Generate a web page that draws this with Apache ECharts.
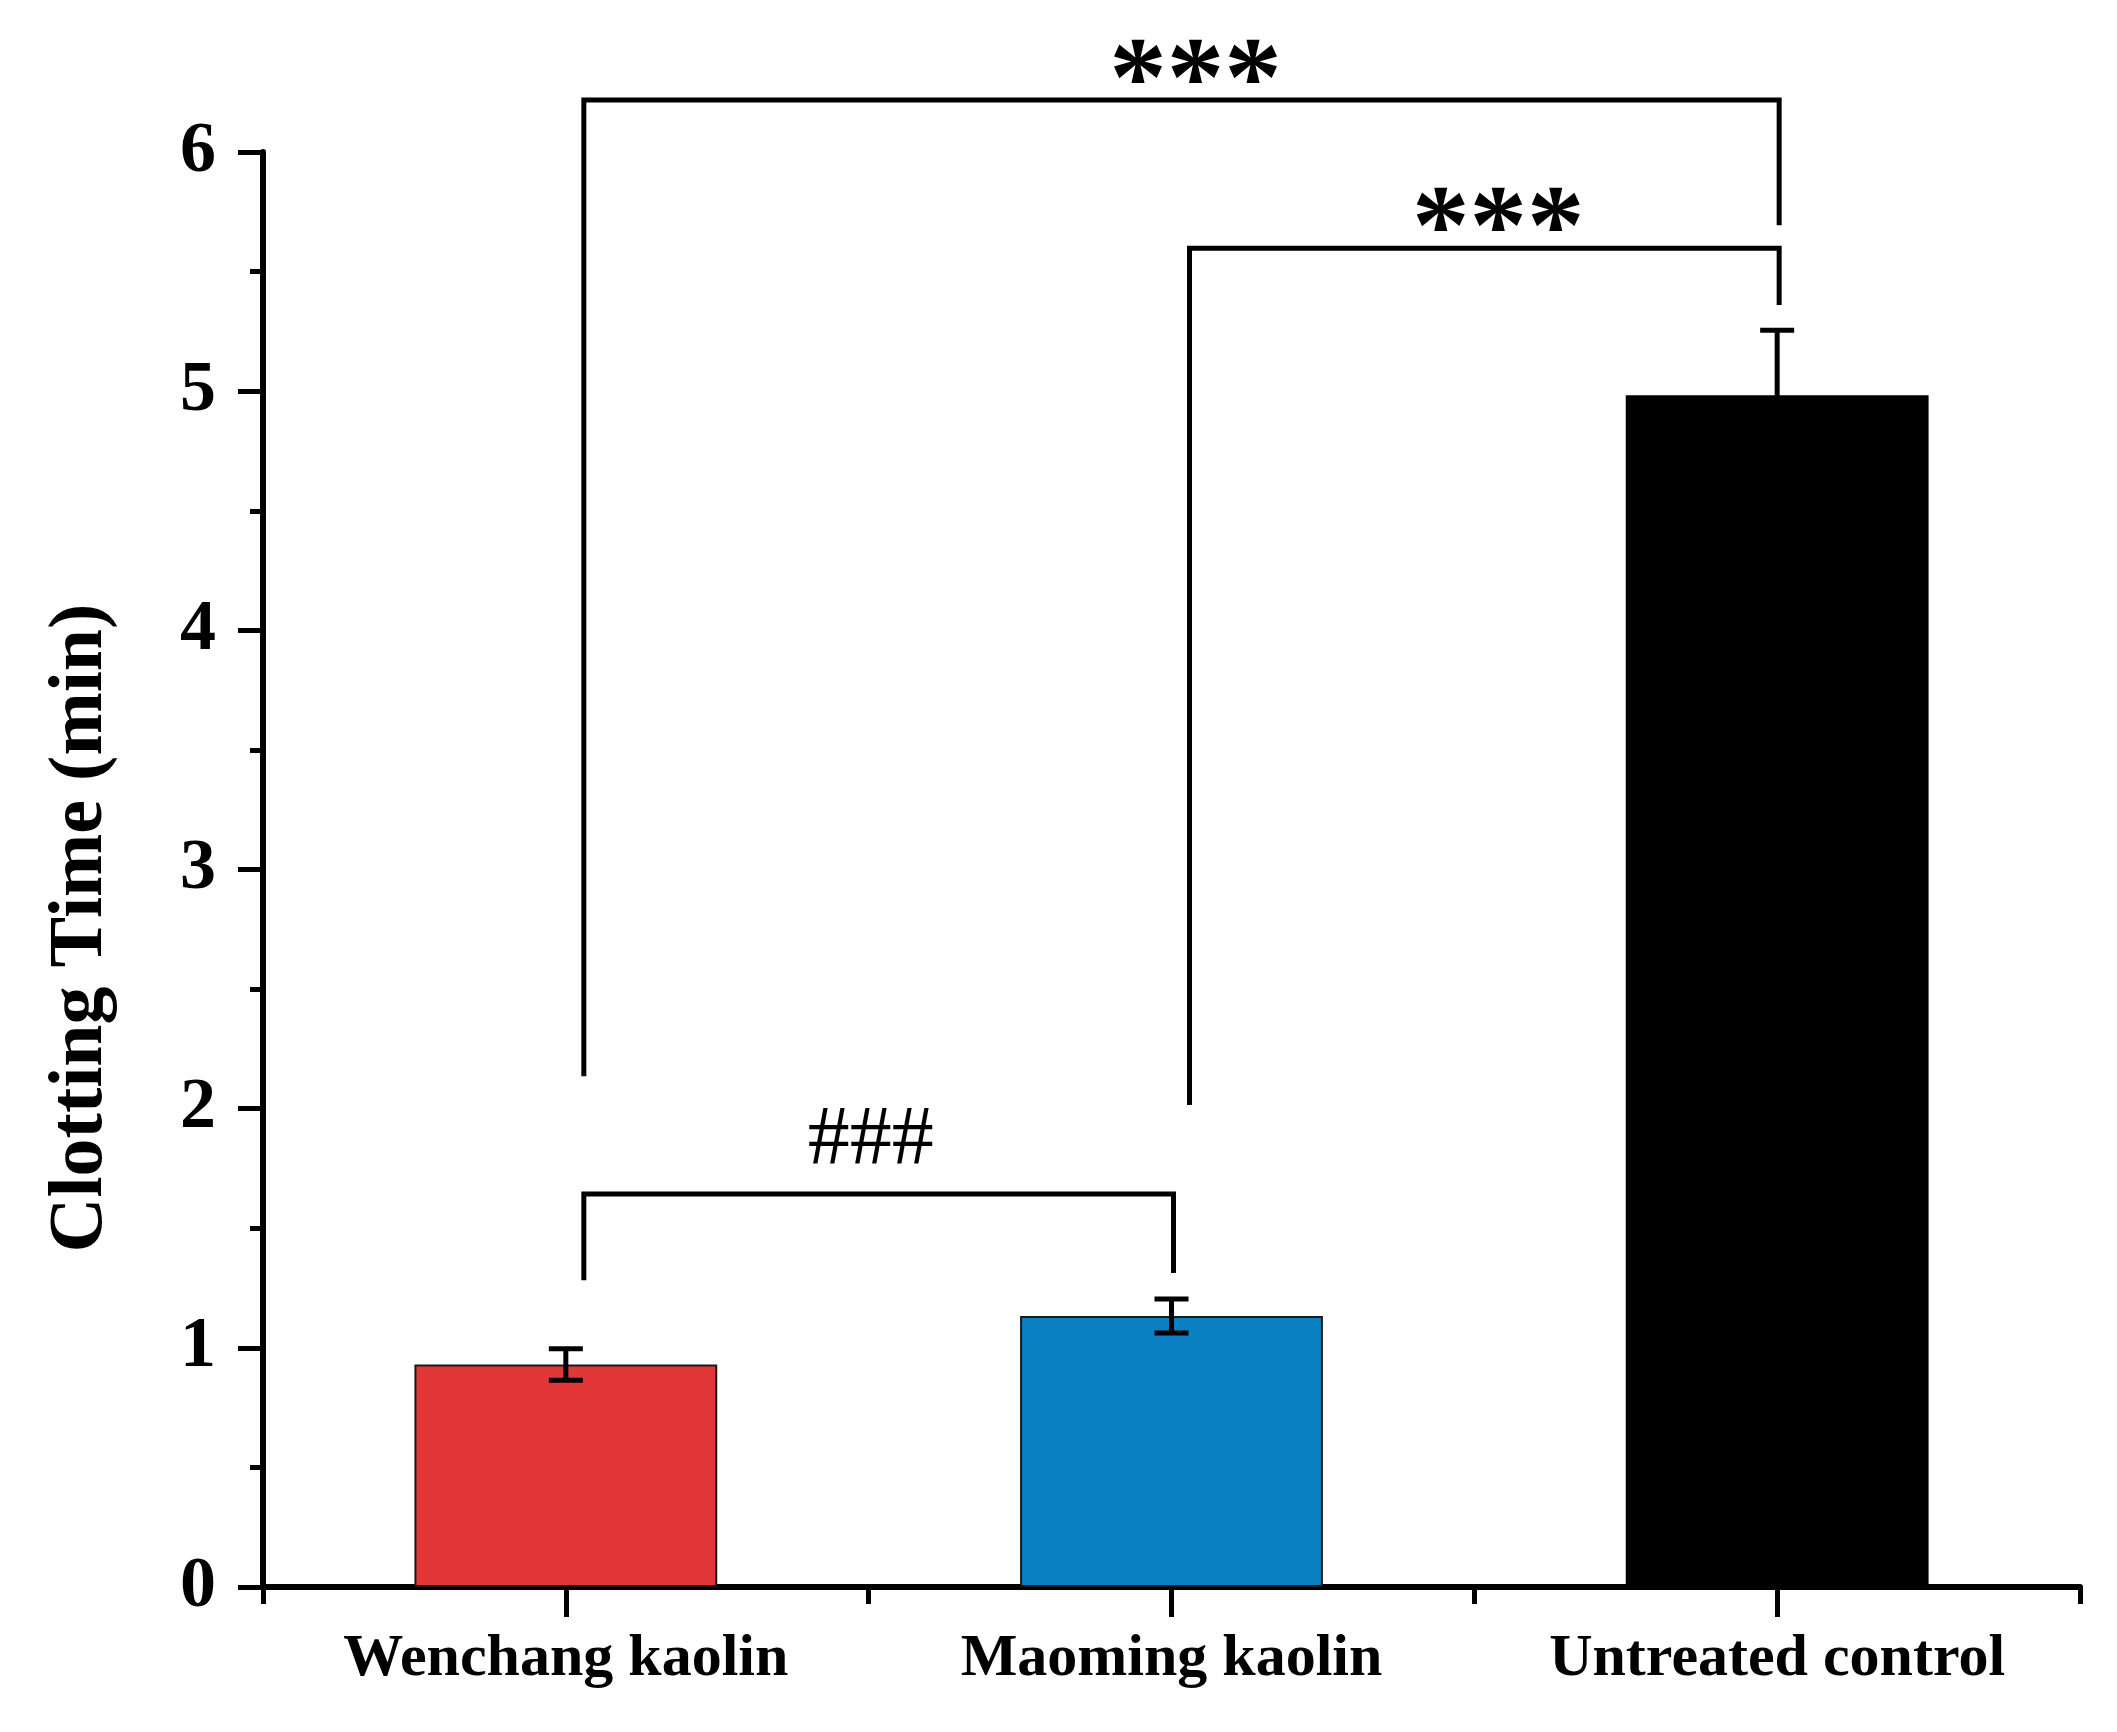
<!DOCTYPE html>
<html>
<head>
<meta charset="utf-8">
<script src="https://cdn.jsdelivr.net/npm/echarts@6/dist/echarts.min.js"></script>
<style>
html,body{margin:0;padding:0;background:#fff;}
#chart{width:2117px;height:1732px;}
</style>
</head>
<body>
<div id="chart"></div>
<script>
// ---- data ----
const categories = ['Wenchang kaolin', 'Maoming kaolin', 'Untreated control'];
const meanTime = [0.93, 1.133, 4.983];
const errTime = [0.066, 0.071, 0.272];
const barColors = ['#e23638', '#0a7fc2', '#000000'];
const yTicks = [0, 1, 2, 3, 4, 5, 6];
const yTitle = 'Clotting Time (min)';
// significance brackets
const bracketFrom = [0, 1, 0];
const bracketTo = [2, 2, 1];
const bracketLevel = [6.217, 5.598, 1.643];
const bracketLeftEnd = [2.136, 2.015, 1.283];
const bracketRightEnd = [5.694, 5.36, 1.313];
const bracketLabel = ['***', '***', '###'];

const FONT = '"Liberation Serif", "Times New Roman", serif';
const chart = echarts.init(document.getElementById('chart'), null, {renderer: 'canvas'});

const gridPos = {left: 263, right: 37, top: 152, bottom: 145};

const option = {
  backgroundColor: '#fff',
  animation: false,
  grid: [Object.assign({}, gridPos), Object.assign({}, gridPos)],
  xAxis: [{
    type: 'category',
    gridIndex: 0,
    data: categories,
    boundaryGap: true,
    axisLine: {show: true, lineStyle: {color: '#000', width: 6}},
    axisTick: {show: true, alignWithLabel: true, length: 30, lineStyle: {color: '#000', width: 5}},
    axisLabel: {fontFamily: FONT, fontWeight: 'bold', fontSize: 60, color: '#000', margin: 42},
    splitLine: {show: false}
  }, {
    type: 'category',
    gridIndex: 1,
    data: categories,
    boundaryGap: true,
    axisLine: {show: false},
    axisTick: {show: true, length: 17, lineStyle: {color: '#000', width: 5}},
    axisLabel: {show: false},
    splitLine: {show: false}
  }],
  yAxis: [{
    type: 'value',
    gridIndex: 0,
    min: yTicks[0],
    max: yTicks[yTicks.length - 1],
    interval: 1,
    axisLine: {show: true, lineStyle: {color: '#000', width: 6}},
    axisTick: {show: true, length: 25, lineStyle: {color: '#000', width: 5}},
    minorTick: {show: true, splitNumber: 2, length: 13, lineStyle: {color: '#000', width: 5}},
    splitLine: {show: false},
    axisLabel: {fontFamily: FONT, fontWeight: 'bold', fontSize: 72, color: '#000', margin: 47}
  }, {
    type: 'value',
    gridIndex: 1,
    min: yTicks[0],
    max: yTicks[yTicks.length - 1],
    show: false
  }],
  graphic: [{
    type: 'text',
    x: 81,
    y: 928,
    rotation: Math.PI / 2,
    style: {
      text: yTitle,
      fontFamily: FONT,
      fontWeight: 'bold',
      fontSize: 76,
      fill: '#000',
      align: 'center',
      verticalAlign: 'middle'
    }
  }],
  series: [{
    type: 'bar',
    xAxisIndex: 0,
    yAxisIndex: 0,
    barWidth: '50%',
    data: meanTime.map((v, i) => ({
      value: v,
      itemStyle: {color: barColors[i], borderColor: i === 2 ? '#000' : '#1a1a1a', borderWidth: 2}
    })),
    z: 2
  }, {
    type: 'custom',
    xAxisIndex: 0,
    yAxisIndex: 0,
    z: 5,
    data: meanTime.map((m, i) => [i, m, errTime[i]]),
    renderItem: function (params, api) {
      const x = api.value(0), m = api.value(1), e = api.value(2);
      const top = api.coord([x, m + e]);
      const bot = api.coord([x, m - e]);
      const hw = 17;
      const st = {stroke: '#000', lineWidth: 5};
      return {
        type: 'group',
        children: [
          {type: 'line', shape: {x1: top[0], y1: top[1], x2: bot[0], y2: bot[1]}, style: st},
          {type: 'line', shape: {x1: top[0] - hw, y1: top[1], x2: top[0] + hw, y2: top[1]}, style: st},
          {type: 'line', shape: {x1: bot[0] - hw, y1: bot[1], x2: bot[0] + hw, y2: bot[1]}, style: st}
        ]
      };
    }
  }, {
    type: 'custom',
    xAxisIndex: 0,
    yAxisIndex: 0,
    z: 6,
    clip: false,
    data: bracketLevel.map((lv, i) => [bracketFrom[i], bracketTo[i], lv, bracketLeftEnd[i], bracketRightEnd[i]]),
    renderItem: function (params, api) {
      const i0 = api.value(0), i1 = api.value(1), lv = api.value(2);
      const pL = api.coord([i0, lv]);
      const pR = api.coord([i1, lv]);
      const lx = pL[0] + 18, rx = pR[0] + 2;
      const ly = api.coord([i0, api.value(3)])[1];
      const ry = api.coord([i1, api.value(4)])[1];
      const label = bracketLabel[params.dataIndex];
      const isHash = label.charAt(0) === '#';
      return {
        type: 'group',
        children: [{
          type: 'polyline',
          shape: {points: [[lx, ly], [lx, pL[1]], [rx, pL[1]], [rx, ry]]},
          style: {stroke: '#000', lineWidth: 5, fill: null, lineJoin: 'miter'}
        }, {
          type: 'text',
          x: (lx + rx) / 2 + (isHash ? -8 : 14),
          y: pL[1] - (isHash ? 52 : 15),
          style: {
            text: label,
            fontFamily: FONT,
            fontWeight: isHash ? 'normal' : 'bold',
            fontSize: isHash ? 84 : 115,
            fill: '#000',
            align: 'center',
            verticalAlign: 'middle'
          }
        }]
      };
    }
  }]
};
chart.setOption(option);
</script>
</body>
</html>
